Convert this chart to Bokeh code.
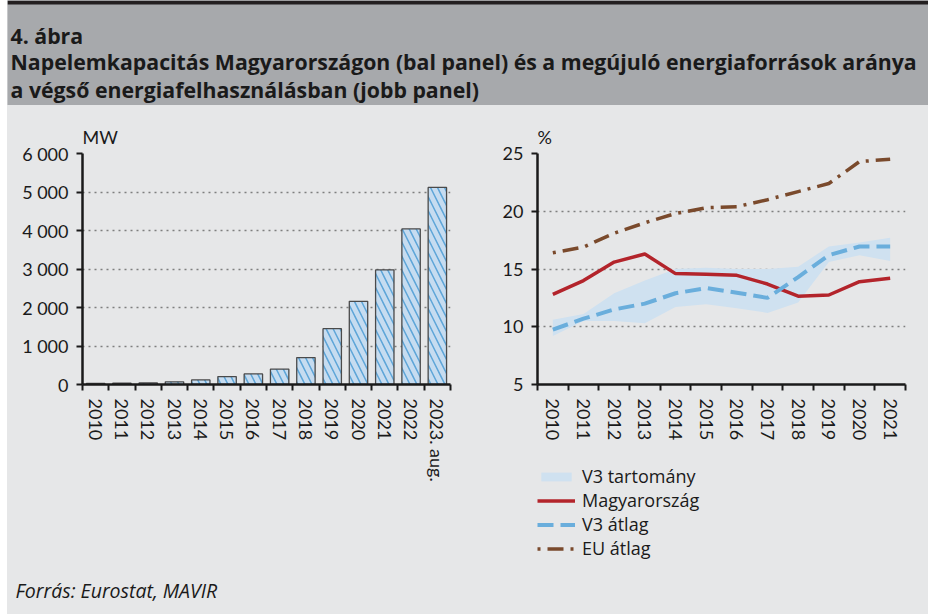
from bokeh.plotting import figure
from bokeh.layouts import column, row, Spacer
from bokeh.models import (Range1d, FixedTicker, CustomJSTickFormatter, Label,
                          Legend, LegendItem, BoxAnnotation, Title)
from bokeh.embed import file_html
from bokeh.resources import INLINE

# ---------------- data ----------------
bar_categories = ["2010", "2011", "2012", "2013", "2014", "2015", "2016",
                  "2017", "2018", "2019", "2020", "2021", "2022", "2023. aug."]
capacity_mw = [30, 35, 40, 70, 120, 205, 275, 400, 700, 1450, 2160, 2975, 4040, 5120]
capacity_ticks = [0, 1000, 2000, 3000, 4000, 5000, 6000]
capacity_tick_labels = ["0", "1 000", "2 000", "3 000", "4 000", "5 000", "6 000"]

years = ["2010", "2011", "2012", "2013", "2014", "2015", "2016", "2017",
         "2018", "2019", "2020", "2021"]
hungary = [12.8, 14.0, 15.6, 16.3, 14.6, 14.55, 14.45, 13.7, 12.65, 12.75, 13.9, 14.2]
v3_avg = [9.75, 10.7, 11.5, 12.0, 12.9, 13.35, 12.95, 12.5, 14.3, 16.2, 16.95, 16.95]
v3_low = [9.2, 10.5, 10.5, 10.3, 11.7, 11.95, 11.6, 11.2, 12.1, 15.6, 16.2, 15.7]
v3_high = [10.6, 11.1, 12.9, 14.0, 15.0, 15.1, 15.0, 15.0, 15.2, 16.95, 17.3, 17.7]
eu_avg = [16.4, 16.9, 18.1, 19.0, 19.8, 20.3, 20.4, 21.0, 21.7, 22.4, 24.3, 24.5]
pct_ticks = [5, 10, 15, 20, 25]
legend_labels = ["V3 tartomány", "Magyarország", "V3 átlag", "EU átlag"]

title_lines = ["4. ábra",
               "Napelemkapacitás Magyarországon (bal panel) és a megújuló energiaforrások aránya",
               "a végső energiafelhasználásban (jobb panel)"]
source_text = "Forrás: Eurostat, MAVIR"

# ---------------- styles ----------------
FONT = "Lato"
FONT2 = "Open Sans"
BG = "#e6e7e8"
HEAD_BG = "#a7a9ac"
TXT = "#1a1a1a"
AX = "#1a1a1a"
C_BAND = "#cfe1f0"
C_HU = "#b3242b"
C_V3 = "#6aaedc"
C_EU = "#7a4a2c"
BGSTYLE = {"background-color": BG}

W = 921
HEAD_H = 105
BODY_H = 463
FOOT_H = 46
LEFT_W = 466
RIGHT_W = W - LEFT_W
RIGHT_H = 350
LEG_H = BODY_H - RIGHT_H
LEG_X = 64


def blank(w, h, bg):
    f = figure(width=w, height=h, x_range=Range1d(0, w), y_range=Range1d(h, 0),
               x_axis_type=None, y_axis_type=None, output_backend="svg",
               toolbar_location=None, min_border=0)
    f.background_fill_color = bg
    f.border_fill_color = bg
    f.outline_line_color = None
    return f


head = blank(W, HEAD_H, HEAD_BG)
head.add_layout(BoxAnnotation(top=0, bottom=4, fill_color="#231f20", fill_alpha=1,
                              line_color=None))
for (ty, txt) in zip([35, 61, 89], title_lines):
    head.add_layout(Label(x=3, y=ty, text=txt, text_font=FONT2, text_font_style="bold",
                          text_font_size="21.3px", text_color=TXT,
                          text_baseline="alphabetic", text_align="left"))

foot = blank(W, FOOT_H, BG)
foot.add_layout(Label(x=8, y=22, text=source_text, text_font=FONT2,
                      text_font_style="italic", text_font_size="19.5px",
                      text_color=TXT, text_baseline="alphabetic"))


def style_axes(p, n, unit):
    p.background_fill_color = BG
    p.border_fill_color = BG
    p.outline_line_color = None
    for ax in (p.xaxis[0], p.yaxis[0]):
        ax.axis_line_color = AX
        ax.axis_line_width = 2.5
        ax.major_label_text_font = FONT
        ax.major_label_text_font_size = "18px"
        ax.major_label_text_color = TXT
    xa = p.xaxis[0]
    xa.ticker = FixedTicker(ticks=list(range(n)),
                            minor_ticks=[i - 0.5 for i in range(n + 1)])
    xa.major_tick_out = 0
    xa.major_tick_in = 0
    xa.minor_tick_out = 6
    xa.minor_tick_in = 0
    xa.minor_tick_line_color = AX
    xa.minor_tick_line_width = 2
    xa.major_label_orientation = "vertical"
    xa.major_label_standoff = 8
    ya = p.yaxis[0]
    ya.major_tick_out = 6
    ya.major_tick_in = 0
    ya.major_tick_line_color = AX
    ya.major_tick_line_width = 2
    ya.minor_tick_line_color = None
    ya.major_label_standoff = 8
    p.xgrid.visible = False
    p.ygrid.grid_line_color = "#7f7f7f"
    p.ygrid.grid_line_dash = "2 4"
    p.ygrid.grid_line_width = 1.5
    p.title = Title(text=unit, align="left", text_font=FONT, text_font_size="18px",
                    text_font_style="normal", text_color=TXT, standoff=11, offset=0)


def cat_formatter(labels):
    return CustomJSTickFormatter(
        args=dict(labels=labels),
        code="const i = Math.round(tick); return (i >= 0 && i < labels.length) ? labels[i] : '';")


# ---------------- left panel ----------------
nb = len(bar_categories)
left = figure(width=LEFT_W, height=BODY_H, x_range=Range1d(-0.5, nb - 0.5),
              y_range=Range1d(0, 6000), output_backend="svg", toolbar_location=None,
              min_border_left=75, min_border_right=23, min_border_top=48,
              min_border_bottom=184)
style_axes(left, nb, "MW")
left.yaxis[0].ticker = FixedTicker(ticks=capacity_ticks)
left.ygrid.ticker = FixedTicker(ticks=capacity_ticks[1:])
left.yaxis[0].major_label_overrides = dict(zip(capacity_ticks, capacity_tick_labels))
left.xaxis[0].formatter = cat_formatter(bar_categories)
left.vbar(x=list(range(nb)), top=capacity_mw, width=0.7, bottom=0,
          fill_color="#c6dcf0", line_color="#4a4a4a", line_width=1.3,
          hatch_pattern="\\", hatch_color="#5da5d8", hatch_weight=1.5, hatch_scale=14)

# ---------------- right panel ----------------
ny = len(years)
xs = list(range(ny))


def draw_series(p):
    rb = p.varea(x=xs, y1=v3_low, y2=v3_high, fill_color=C_BAND)
    rh = p.line(xs, hungary, line_color=C_HU, line_width=3.5)
    rv = p.line(xs, v3_avg, line_color=C_V3, line_width=4, line_dash="16 7")
    re = p.line(xs, eu_avg, line_color=C_EU, line_width=3.5, line_dash="3 7 16 7")
    return [rb, rh, rv, re]


right = figure(width=RIGHT_W, height=RIGHT_H, x_range=Range1d(-0.5, ny - 0.5),
               y_range=Range1d(5, 25), output_backend="svg", toolbar_location=None,
               min_border_left=64, min_border_right=23, min_border_top=48,
               min_border_bottom=RIGHT_H - 48 - 231)
style_axes(right, ny, "%")
right.yaxis[0].ticker = FixedTicker(ticks=pct_ticks)
right.ygrid.ticker = FixedTicker(ticks=pct_ticks[1:])
right.xaxis[0].formatter = cat_formatter(years)
draw_series(right)

# ---------------- legend (below right panel) ----------------
# a legend-only figure: same series drawn outside its visible y range,
# so only the legend shows
leg = figure(width=RIGHT_W - LEG_X, height=LEG_H, x_range=Range1d(-0.5, ny - 0.5),
             y_range=Range1d(100, 101), x_axis_type=None, y_axis_type=None,
             output_backend="svg", toolbar_location=None, min_border=0)
leg.background_fill_color = BG
leg.border_fill_color = BG
leg.outline_line_color = None
leg_renderers = draw_series(leg)
legend = Legend(items=[LegendItem(label=lab, renderers=[r]) for lab, r in
                       zip(legend_labels, leg_renderers)],
                location=(0, 8), orientation="vertical", padding=0,
                margin=0, spacing=0, glyph_width=38, glyph_height=11, label_height=22,
                label_standoff=7, border_line_color=None, background_fill_alpha=0,
                label_text_font=FONT2, label_text_font_size="18px",
                label_text_color=TXT)
leg.add_layout(legend)

leg_row = row(Spacer(width=LEG_X, height=LEG_H, styles=BGSTYLE), leg, styles=BGSTYLE)
body = row(left, column(right, leg_row, styles=BGSTYLE), styles=BGSTYLE)
layout = row(Spacer(width=7), column(head, body, foot, styles=BGSTYLE))
open("out.html", "w").write(file_html(layout, INLINE))
